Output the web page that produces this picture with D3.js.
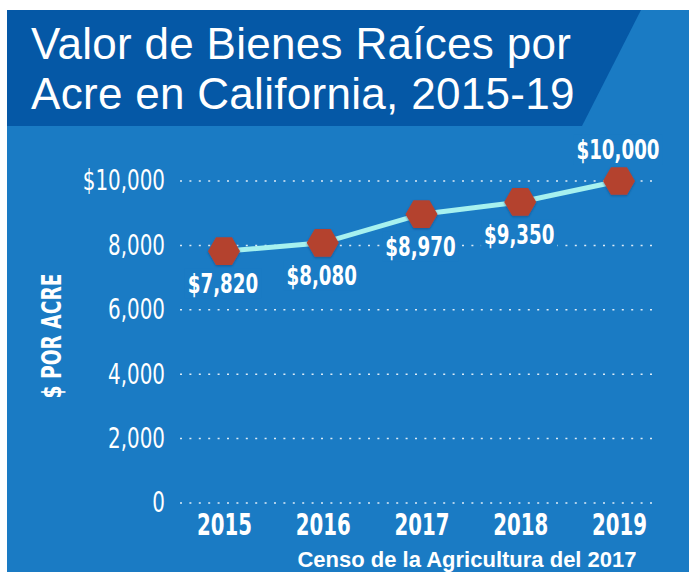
<!DOCTYPE html>
<html>
<head>
<meta charset="utf-8">
<script src="https://cdn.jsdelivr.net/npm/d3@7"></script>
<style>
  html, body { margin: 0; padding: 0; background: #ffffff; }
  svg { display: block; }
</style>
</head>
<body>
<svg id="chart" width="689" height="572"></svg>
<script>
// ---- data ----
const years = ["2015", "2016", "2017", "2018", "2019"];
const values = [7820, 8080, 8970, 9350, 10000];
const valueLabels = ["$7,820", "$8,080", "$8,970", "$9,350", "$10,000"];
const labelAbove = [false, false, false, false, true];
const yTicks = [0, 2000, 4000, 6000, 8000, 10000];
const yTickLabels = ["0", "2,000", "4,000", "6,000", "8,000", "$10,000"];
const titleLines = ["Valor de Bienes Raíces por", "Acre en California, 2015-19"];
const yAxisTitle = "$ POR ACRE";
const sourceText = "Censo de la Agricultura del 2017";

// ---- style ----
const panelBlue = "#1a7bc4";
const titleBlue = "#0558a6";
const hexRed = "#b4432f";
const lineCyan = "#a6f1ef";
const condensed = "'DejaVu Sans Condensed', 'DejaVu Sans', sans-serif";

const svg = d3.select("#chart");

const defs = svg.append("defs");
const f = defs.append("filter").attr("id", "shadow").attr("x", "-30%").attr("y", "-30%").attr("width", "160%").attr("height", "160%");
f.append("feDropShadow").attr("dx", 0).attr("dy", 1).attr("stdDeviation", 1.2).attr("flood-color", "#0a3a66").attr("flood-opacity", 0.55);

// fit a text horizontally to a target width (condensed look)
function fitWidth(textSel, target) {
  textSel.each(function () {
    const w = this.getComputedTextLength();
    if (w > 0) {
      const k = target / w;
      d3.select(this).attr("transform", `scale(${k},1)`);
    }
  });
}

// panel
svg.append("rect").attr("x", 7).attr("y", 10).attr("width", 682).attr("height", 562).attr("fill", panelBlue);
// title band
svg.append("polygon").attr("points", "7,10 641,10 582,126 7,126").attr("fill", titleBlue);

// title
const title = svg.append("text")
  .attr("fill", "#ffffff")
  .style("font-family", "'Liberation Sans', Arial, Helvetica, sans-serif")
  .style("font-weight", 400)
  .style("font-size", "44px")
  .style("letter-spacing", "0.3px");
title.selectAll("tspan").data(titleLines).join("tspan")
  .attr("x", 31)
  .attr("y", (d, i) => 59 + i * 50)
  .text(d => d);

// scales
const x = d3.scalePoint().domain(years).range([224, 619]);
const y = d3.scaleLinear().domain([0, 10000]).range([503, 181]);

// gridlines
svg.append("g").selectAll("line").data(yTicks).join("line")
  .attr("x1", 180).attr("x2", 655)
  .attr("y1", d => y(d)).attr("y2", d => y(d))
  .attr("stroke", "#ffffff")
  .attr("stroke-opacity", 0.85)
  .attr("stroke-width", 1.5)
  .attr("stroke-dasharray", "2,7.4");

// y axis
const yAxis = svg.append("g")
  .attr("transform", "translate(165,0)")
  .call(d3.axisLeft(y).tickValues(yTicks).tickFormat((d, i) => yTickLabels[i]).tickSize(0).tickPadding(0));
yAxis.select(".domain").remove();
yAxis.selectAll("text")
  .attr("fill", "#ffffff")
  .style("font-family", condensed)
  .style("font-size", "28px")
  .attr("transform", "scale(0.79,1)");

// x axis
const xAxis = svg.append("g")
  .attr("transform", "translate(0,503)")
  .call(d3.axisBottom(x).tickSize(0).tickPadding(11));
xAxis.select(".domain").remove();
xAxis.selectAll("text")
  .attr("fill", "#ffffff")
  .style("font-family", condensed)
  .style("font-weight", "bold")
  .style("font-size", "30px");
fitWidth(xAxis.selectAll("text"), 55);

// y axis title
const yt = svg.append("g").attr("transform", "translate(52,336) rotate(-90)");
const ytText = yt.append("text")
  .attr("text-anchor", "middle")
  .attr("dominant-baseline", "central")
  .attr("fill", "#ffffff")
  .style("font-family", condensed)
  .style("font-weight", "bold")
  .style("font-size", "27px")
  .text(yAxisTitle);
fitWidth(ytText, 125);

// line
const pts = years.map((yr, i) => ({ yr, v: values[i], lab: valueLabels[i], above: labelAbove[i] }));
svg.append("path")
  .datum(pts)
  .attr("fill", "none")
  .attr("stroke", lineCyan)
  .attr("stroke-width", 5)
  .attr("d", d3.line().x(d => x(d.yr)).y(d => y(d.v)));

// value labels with knock-out backgrounds
const labG = svg.append("g");
pts.forEach(d => {
  const g = labG.append("g")
    .attr("transform", `translate(${x(d.yr) - 1},${d.above ? y(d.v) - 22 : y(d.v) + 42})`);
  const bg = g.append("rect").attr("fill", panelBlue);
  const inner = g.append("g");
  const t = inner.append("text")
    .attr("text-anchor", "middle")
    .attr("fill", "#ffffff")
    .style("font-family", condensed)
    .style("font-weight", "bold")
    .style("font-size", "26px")
    .text(d.lab);
  const k = 0.78;
  inner.attr("transform", `scale(${k},1)`);
  const bb = t.node().getBBox();
  bg.attr("x", bb.x * k - 3).attr("y", bb.y).attr("width", bb.width * k + 6).attr("height", bb.height);
});

// hexagon markers
const R = 16;
const hexPts = d3.range(6).map(k => [R * Math.cos(k * Math.PI / 3), R * Math.sin(k * Math.PI / 3)]);
const hexPath = d3.line()(hexPts) + "Z";
svg.append("g").selectAll("path").data(pts).join("path")
  .attr("transform", d => `translate(${x(d.yr)},${y(d.v)})`)
  .attr("d", hexPath)
  .attr("fill", hexRed)
  .attr("filter", "url(#shadow)");

// source
svg.append("text")
  .attr("x", 467)
  .attr("y", 567)
  .attr("text-anchor", "middle")
  .attr("fill", "#ffffff")
  .style("font-family", "'Liberation Sans', Arial, Helvetica, sans-serif")
  .style("font-weight", "bold")
  .style("font-size", "22px")
  .text(sourceText);
</script>
</body>
</html>
